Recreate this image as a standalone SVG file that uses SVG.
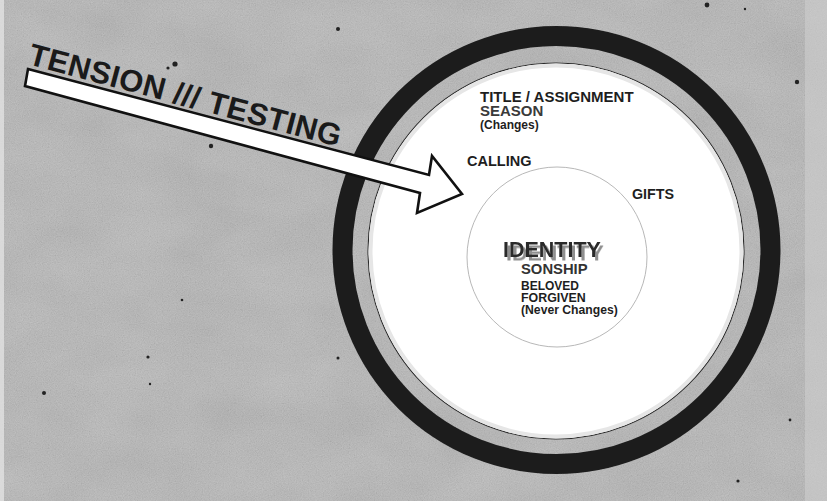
<svg xmlns="http://www.w3.org/2000/svg" width="827" height="501" viewBox="0 0 827 501">
  <defs>
    <filter id="grain" x="0" y="0" width="100%" height="100%">
      <feTurbulence type="fractalNoise" baseFrequency="0.85" numOctaves="2" seed="7"/>
      <feColorMatrix type="matrix" values="0.33 0.33 0.33 0 0  0.33 0.33 0.33 0 0  0.33 0.33 0.33 0 0  0 0 0 0 0.26"/>
    </filter>
    <filter id="mottle" x="0" y="0" width="100%" height="100%">
      <feTurbulence type="fractalNoise" baseFrequency="0.012 0.02" numOctaves="3" seed="11"/>
      <feColorMatrix type="matrix" values="0.33 0.33 0.33 0 0  0.33 0.33 0.33 0 0  0.33 0.33 0.33 0 0  0 0 0 0 0.18"/>
    </filter>
    <filter id="soft" x="-5%" y="-5%" width="110%" height="110%">
      <feGaussianBlur stdDeviation="0.5"/>
    </filter>
    <filter id="shadow" x="-10%" y="-30%" width="130%" height="170%">
      <feDropShadow dx="3" dy="3.5" stdDeviation="0.4" flood-color="#8f8f8f" flood-opacity="1"/>
    </filter>
  </defs>
  <style>
    .t { font-family: "Liberation Sans", Arial, Helvetica, sans-serif; font-weight: bold; fill: #1e1e1e; }
    .m { font-size: 15px; }
    .s { font-size: 12.2px; }
    .speck { fill: #222; }
  </style>

  <g id="background">
    <rect x="0" y="0" width="827" height="501" fill="#b4b4b4"/>
    <rect x="0" y="0" width="827" height="501" filter="url(#mottle)"/>
    <rect x="0" y="0" width="827" height="501" filter="url(#grain)"/>
    <rect x="805" y="0" width="22" height="501" fill="#d0d0d0" opacity="0.55"/>
    <rect x="0" y="0" width="4" height="501" fill="#e2e2e2" opacity="0.8"/>
    <circle class="speck" cx="175" cy="64" r="2.6"/>
    <circle class="speck" cx="168" cy="68" r="1.6"/>
    <circle class="speck" cx="338" cy="29" r="2"/>
    <circle class="speck" cx="211" cy="146" r="2.2"/>
    <circle class="speck" cx="707" cy="5" r="2.4"/>
    <circle class="speck" cx="797" cy="82" r="2.2"/>
    <circle class="speck" cx="745" cy="9" r="1.2"/>
    <circle class="speck" cx="44" cy="393" r="2"/>
    <circle class="speck" cx="148" cy="357" r="1.6"/>
    <circle class="speck" cx="182" cy="300" r="1.3"/>
    <circle class="speck" cx="150" cy="384" r="1.2"/>
    <circle class="speck" cx="338" cy="358" r="1.5"/>
    <circle class="speck" cx="738" cy="481" r="1.6"/>
    <circle class="speck" cx="790" cy="420" r="1.4"/>
  </g>

  <g id="outer-ring">
    <circle cx="556.5" cy="250" r="214" fill="none" stroke="#1c1c1c" stroke-width="20" filter="url(#soft)"/>
  </g>

  <g id="life-circle">
    <circle cx="556" cy="251" r="188" fill="#ffffff" stroke="#2a2a2a" stroke-width="1.1"/>
    <circle cx="556" cy="251" r="185.5" fill="none" stroke="#e6e6e6" stroke-width="4"/>
  </g>

  <g id="identity-circle">
    <circle cx="557" cy="257" r="90" fill="#ffffff" stroke="#b8b8b8" stroke-width="1"/>
  </g>

  <g id="label-title">
    <text class="t m" x="480" y="102">TITLE / ASSIGNMENT</text>
    <text class="t m" x="480" y="116" style="fill:#3a3a3a">SEASON</text>
    <text class="t s" x="480" y="129" style="font-size:12px">(Changes)</text>
  </g>

  <g id="label-calling">
    <text class="t m" x="467" y="166" style="font-size:14.5px">CALLING</text>
  </g>

  <g id="label-gifts">
    <text class="t m" x="632" y="199" style="font-size:14.3px">GIFTS</text>
  </g>

  <g id="label-identity">
    <text class="t" x="503" y="257" filter="url(#shadow)" style="font-size:21.5px;fill:#2a2a2a">IDENTITY</text>
    <text class="t m" x="521" y="274" style="font-size:14.8px;fill:#333333">SONSHIP</text>
    <text class="t s" x="521" y="290" style="font-size:12px">BELOVED</text>
    <text class="t s" x="521" y="302" style="font-size:12.4px">FORGIVEN</text>
    <text class="t s" x="521" y="314">(Never Changes)</text>
  </g>

  <g id="connectors">
    <text class="t" transform="translate(27,64) rotate(14.9)" style="font-size:31px;fill:#1a1a1a" textLength="322" lengthAdjust="spacing">TENSION /// TESTING</text>
    <polygon points="28,69 429,175 432,156 462,194 417,213 420,193 25,86" fill="#ffffff" stroke="#111111" stroke-width="2.6" stroke-linejoin="miter"/>
  </g>
</svg>
